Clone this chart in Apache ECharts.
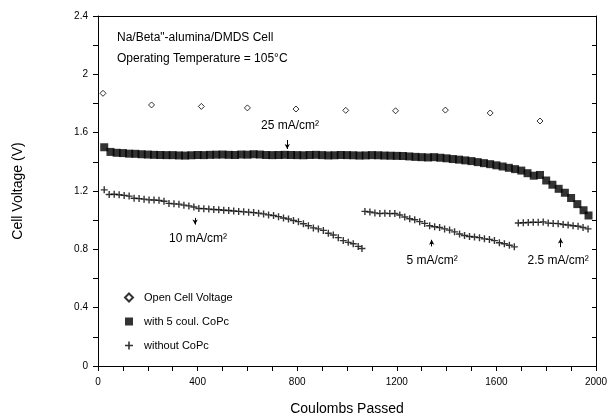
<!DOCTYPE html>
<html>
<head>
<meta charset="utf-8">
<script src="https://cdn.jsdelivr.net/npm/echarts@6/dist/echarts.min.js"></script>
<style>
  html, body { margin: 0; padding: 0; background: #fff; }
  #chart { width: 607px; height: 413px; }
</style>
</head>
<body>
<div id="chart"></div>
<script>
// Open cell voltage readings
const ocvX = [20, 215, 415, 600, 795, 995, 1195, 1395, 1575, 1775];
const ocvY = [1.87, 1.79, 1.78, 1.77, 1.762, 1.753, 1.75, 1.755, 1.735, 1.68];

// Cell with 5 coulombs of CoPc
const copcX = [25, 50, 75, 100, 125, 150, 175, 200, 225, 250, 275, 300, 325, 350, 375, 400,
  425, 450, 475, 500, 525, 550, 575, 600, 625, 650, 675, 700, 725, 750, 775, 800, 825, 850,
  875, 900, 925, 950, 975, 1000, 1025, 1050, 1075, 1100, 1125, 1150, 1175, 1200, 1225, 1250,
  1275, 1300, 1325, 1350, 1375, 1400, 1425, 1450, 1475, 1500, 1525, 1550, 1575, 1600, 1625,
  1650, 1675, 1700, 1725, 1750, 1775, 1800, 1825, 1850, 1875, 1900, 1925, 1950, 1970];
const copcY = [1.500, 1.468, 1.462, 1.460, 1.456, 1.455, 1.452, 1.450, 1.448, 1.447, 1.446,
  1.446, 1.444, 1.443, 1.445, 1.447, 1.446, 1.448, 1.449, 1.450, 1.448, 1.447, 1.450, 1.449,
  1.452, 1.450, 1.447, 1.446, 1.447, 1.448, 1.447, 1.446, 1.445, 1.447, 1.448, 1.446, 1.444,
  1.445, 1.447, 1.446, 1.445, 1.443, 1.444, 1.446, 1.445, 1.443, 1.442, 1.441, 1.440, 1.437,
  1.434, 1.432, 1.430, 1.432, 1.428, 1.424, 1.419, 1.415, 1.410, 1.405, 1.398, 1.391, 1.384,
  1.376, 1.368, 1.359, 1.350, 1.340, 1.322, 1.305, 1.310, 1.272, 1.243, 1.215, 1.188, 1.152,
  1.110, 1.068, 1.032];

// Cell without CoPc (three discharge segments)
const bareX = [25, 45, 65, 85, 105, 125, 145, 165, 185, 205, 225, 245, 265, 285, 305, 325, 345,
  365, 385, 405, 425, 445, 465, 485, 505, 525, 545, 565, 585, 605, 625, 645, 665, 685, 705,
  725, 745, 765, 785, 805, 825, 845, 865, 885, 905, 925, 945, 965, 985, 1005, 1025, 1045, 1060,
  1072, 1092, 1112, 1132, 1152, 1172, 1192, 1212, 1232, 1252, 1272, 1292, 1312, 1332, 1352,
  1372, 1392, 1412, 1432, 1452, 1472, 1492, 1512, 1532, 1552, 1572, 1592, 1612, 1632, 1652, 1672,
  1688, 1708, 1728, 1748, 1768, 1788, 1808, 1828, 1848, 1868, 1888, 1908, 1928, 1948, 1968];
const bareY = [1.208, 1.176, 1.178, 1.174, 1.170, 1.165, 1.150, 1.148, 1.144, 1.139, 1.138,
  1.136, 1.130, 1.115, 1.112, 1.110, 1.103, 1.098, 1.090, 1.080, 1.079, 1.076, 1.073, 1.071,
  1.068, 1.066, 1.063, 1.060, 1.057, 1.055, 1.052, 1.048, 1.043, 1.036, 1.032, 1.024, 1.015,
  1.008, 0.998, 0.990, 0.975, 0.962, 0.947, 0.940, 0.930, 0.910, 0.898, 0.880, 0.860, 0.848,
  0.838, 0.820, 0.806,
  1.060, 1.056, 1.050, 1.045, 1.048, 1.045, 1.046, 1.035, 1.022, 1.010, 1.003, 0.990, 0.978,
  0.962, 0.955, 0.950, 0.940, 0.932, 0.920, 0.905, 0.895, 0.888, 0.885, 0.880, 0.872, 0.868,
  0.860, 0.845, 0.838, 0.828, 0.817,
  0.981, 0.982, 0.984, 0.986, 0.985, 0.988, 0.980, 0.978, 0.976, 0.970, 0.967, 0.962, 0.958,
  0.950, 0.940];

// Current density annotations: label text, arrow x, arrow from/to y, label position
const noteText = ['25 mA/cm²', '10 mA/cm²', '5 mA/cm²', '2.5 mA/cm²'];
const noteArrowX = [760, 390, 1340, 1858];
const noteArrowFrom = [1.55, 1.015, 0.82, 0.815];
const noteArrowTo = [1.488, 0.97, 0.865, 0.875];
const noteLabelX = [771, 402, 1342, 1848];
const noteLabelY = [1.647, 0.87, 0.725, 0.72];

// labelled tick steps
const xLabelStep = 400;
const yLabelStep = 0.4;

const FONT = "'Liberation Sans', Arial, Helvetica, sans-serif";
const INK = '#000';
const PLUS = 'path://M3,0H4.5V3H7.5V4.5H4.5V7.5H3V4.5H0V3H3Z';

const zip = (xs, ys) => xs.map((x, i) => [x, ys[i]]);
const ink = () => ({ color: INK, width: 1 });
const tickFont = { fontFamily: FONT, fontSize: 10, color: INK };

const chart = echarts.init(document.getElementById('chart'));

chart.setOption({
  backgroundColor: '#fff',
  animation: false,
  title: {
    text: 'Na/Beta"-alumina/DMDS Cell\nOperating Temperature = 105°C',
    left: 117, top: 27, padding: 0,
    textStyle: { fontFamily: FONT, fontSize: 12, fontWeight: 'normal', color: INK, lineHeight: 21 }
  },
  legend: {
    orient: 'vertical',
    left: 124, top: 292,
    itemWidth: 8, itemHeight: 8,
    itemGap: 13,
    padding: 0,
    textStyle: { fontFamily: FONT, fontSize: 11, color: INK, padding: [0, 0, 0, 6] },
    data: ['Open Cell Voltage', 'with 5 coul. CoPc', 'without CoPc']
  },
  grid: { left: 98, right: 11, top: 16, bottom: 47, outerBoundsMode: 'none' },
  xAxis: [{
    type: 'value', min: 0, max: 2000, interval: 100,
    name: 'Coulombs Passed', nameLocation: 'middle', nameGap: 36,
    nameTextStyle: { fontFamily: FONT, fontSize: 14, color: INK },
    axisLine: { show: true, onZero: false, lineStyle: ink() },
    splitLine: { show: false },
    axisTick: { show: true, length: 5, lineStyle: ink() },
    axisLabel: Object.assign({ show: true, margin: 11,
      formatter: v => (Math.round(v) % xLabelStep === 0 ? String(v) : '') }, tickFont)
  }, {
    type: 'value', min: 0, max: 2000, interval: 100, position: 'top',
    axisLine: { show: true, onZero: false, lineStyle: ink() },
    splitLine: { show: false },
    axisTick: { show: false },
    axisLabel: { show: false }
  }],
  yAxis: [{
    type: 'value', min: 0, max: 2.4, interval: 0.2,
    name: 'Cell Voltage (V)', nameLocation: 'middle', nameGap: 73, nameRotate: 90,
    nameTextStyle: { fontFamily: FONT, fontSize: 14, color: INK },
    axisLine: { show: true, onZero: false, lineStyle: ink() },
    splitLine: { show: false },
    axisTick: { show: true, length: 5, lineStyle: ink() },
    axisLabel: Object.assign({ show: true, margin: 10,
      formatter: v => (Math.round(v * 10) % Math.round(yLabelStep * 10) === 0
        ? String(+v.toFixed(1)) : '') }, tickFont)
  }, {
    type: 'value', min: 0, max: 2.4, interval: 0.2, position: 'right',
    axisLine: { show: true, onZero: false, lineStyle: ink() },
    splitLine: { show: false },
    axisTick: { show: true, inside: true, length: 4, lineStyle: ink() },
    axisLabel: { show: false }
  }],
  series: [{
    name: 'Open Cell Voltage',
    type: 'scatter',
    symbol: 'diamond', symbolSize: [6, 6],
    itemStyle: { color: '#fff', borderColor: INK, borderWidth: 1 },
    data: zip(ocvX, ocvY)
  }, {
    name: 'with 5 coul. CoPc',
    type: 'scatter',
    symbol: 'rect', symbolSize: 8,
    itemStyle: { color: INK },
    data: zip(copcX, copcY)
  }, {
    name: 'without CoPc',
    type: 'scatter',
    symbol: PLUS, symbolSize: 7,
    itemStyle: { color: INK },
    data: zip(bareX, bareY),
    // current density call-outs
    markLine: {
      silent: true,
      symbol: ['none', 'arrow'],
      symbolSize: [4, 5],
      label: { show: false },
      lineStyle: { color: INK, width: 1, type: 'solid' },
      data: noteArrowX.map((x, i) => [
        { coord: [x, noteArrowFrom[i]] },
        { coord: [x, noteArrowTo[i]] }
      ])
    },
    markPoint: {
      silent: true,
      symbol: 'circle', symbolSize: 0,
      itemStyle: { color: 'transparent' },
      label: { show: true, position: 'inside', fontFamily: FONT, fontSize: 12, color: INK },
      data: noteText.map((t, i) => ({
        coord: [noteLabelX[i], noteLabelY[i]],
        label: { formatter: t }
      }))
    }
  }]
});
</script>
</body>
</html>
